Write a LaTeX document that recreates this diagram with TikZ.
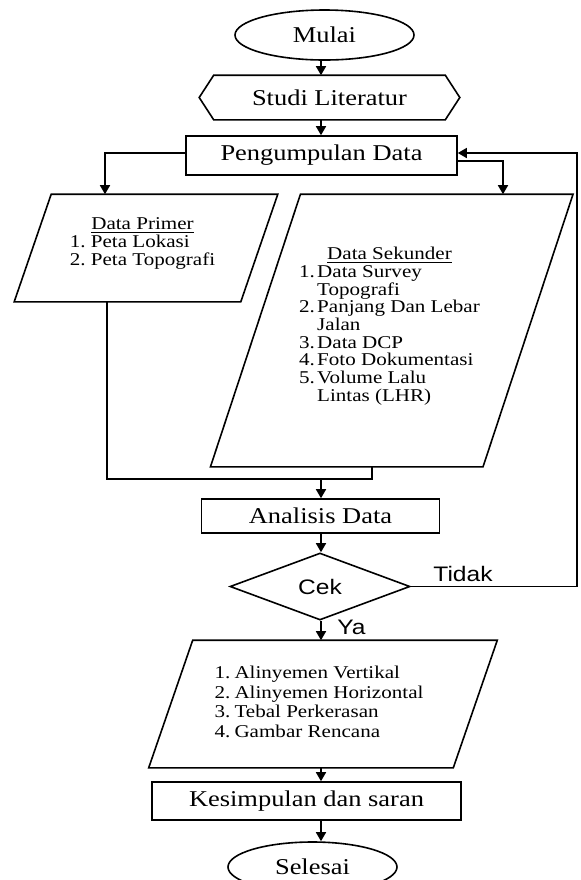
\documentclass[tikz,border=0pt]{standalone}
\usepackage{fontspec}
\setmainfont{Liberation Serif}[FakeStretch=1.17]
\newfontfamily\sansf{Liberation Sans}[FakeStretch=1.17]
\usetikzlibrary{shapes.geometric,arrows.meta,calc}
\newcommand{\itm}[3]{\makebox[#1][l]{#2}#3}
\begin{document}
\begin{tikzpicture}[x=0.5pt,y=-0.5pt, line width=0.8pt,
 arr/.style={-{Triangle[length=4.5pt,width=5pt]}},
 lbl/.style={font=\fontsize{11.3}{13}\selectfont, inner sep=0pt},
 boxr/.style={draw, rectangle, lbl},
 term/.style={draw, ellipse, lbl},
 frame/.style={rectangle, inner sep=0pt},
 lst/.style={inner sep=0pt, align=left, font=\fontsize{9}{8.75}\selectfont},
 lsto/.style={inner sep=0pt, align=left, font=\fontsize{9}{9.8}\selectfont},
 sans/.style={font=\sansf\fontsize{10.5}{12}\selectfont, inner sep=0pt}]
\useasboundingbox (0,0) rectangle (580,880);
\coordinate (X) at (321,0);

% terminals and boxes
\node[term, minimum width=89.5pt, minimum height=25pt] (mulai) at (324.5,35) {Mulai};
\node[lbl, minimum width=129.5pt, minimum height=21.5pt] (studi) at (329.5,97.5) {Studi Literatur};
\draw (studi.west) -- ($(studi.north west)+(14.5,0)$) -- ($(studi.north east)+(-14.5,0)$) -- (studi.east) -- ($(studi.south east)+(-14.5,0)$) -- ($(studi.south west)+(14.5,0)$) -- cycle;
\node[boxr, minimum width=135.5pt, minimum height=19.5pt] (peng) at (321.5,155.5) {Pengumpulan Data};

% Data Primer
\node[frame, minimum width=112.5pt, minimum height=53pt] (prim) at (146,248) {};
\draw ($(prim.south west)+(-18.5,0)$) -- ($(prim.north west)+(18.5,0)$) -- ($(prim.north east)+(18.5,0)$) -- ($(prim.south east)+(-18.5,0)$) -- cycle;
\node[lst] (primtxt) at (142.5,244) {\begin{tabular}{@{}l@{}}
\multicolumn{1}{@{}c@{}}{\underline{Data Primer}}\\
\itm{10.5pt}{1.}{Peta Lokasi}\\
\itm{10.5pt}{2.}{Peta Topografi}
\end{tabular}};

% Data Sekunder
\node[frame, minimum width=135.5pt, minimum height=135.5pt] (sek) at (391.75,330.5) {};
\draw ($(sek.south west)+(-45,0)$) -- ($(sek.north west)+(45,0)$) -- ($(sek.north east)+(45,0)$) -- ($(sek.south east)+(-45,0)$) -- cycle;
\node[lst] (sektxt) at (389.5,327) {\begin{tabular}{@{}l@{}}
\multicolumn{1}{@{}c@{}}{\underline{Data Sekunder}}\\
\itm{9pt}{1.}{Data Survey}\\
\hspace*{9pt}Topografi\\
\itm{9pt}{2.}{Panjang Dan Lebar}\\
\hspace*{9pt}Jalan\\
\itm{9pt}{3.}{Data DCP}\\
\itm{9pt}{4.}{Foto Dokumentasi}\\
\itm{9pt}{5.}{Volume Lalu}\\
\hspace*{9pt}Lintas (LHR)
\end{tabular}};

% merge
\coordinate (jL) at (107,479);
\coordinate (jR) at (372,479);
\coordinate (M) at (321,479);
\draw (prim.south -| jL) -- (jL) -- (jR) -- (sek.south -| jR);

\node[boxr, minimum width=119pt, minimum height=17pt] (anal) at (320.5,516) {Analisis Data};
\node[draw, diamond, aspect=2.69, minimum width=90pt, minimum height=33.5pt, inner sep=0pt, sans] (cek) at (320,586.5) {Cek};
\node[sans] (tidak) at (463,574) {Tidak};
\node[sans] (ya) at (351.5,627) {Ya};

% output
\node[frame, minimum width=151.5pt, minimum height=63pt] (out) at (323,704) {};
\draw ($(out.south west)+(-22,0)$) -- ($(out.north west)+(22,0)$) -- ($(out.north east)+(22,0)$) -- ($(out.south east)+(-22,0)$) -- cycle;
\node[lsto] (outtxt) at (319,704) {\begin{tabular}{@{}l@{}}
\itm{10pt}{1.}{Alinyemen Vertikal}\\
\itm{10pt}{2.}{Alinyemen Horizontal}\\
\itm{10pt}{3.}{Tebal Perkerasan}\\
\itm{10pt}{4.}{Gambar Rencana}
\end{tabular}};

\node[boxr, minimum width=154.5pt, minimum height=19pt] (kes) at (306.5,801) {Kesimpulan dan saran};
\node[term, minimum width=84.5pt, minimum height=25pt] (sel) at (312.5,867) {Selesai};

% connectors
\draw[arr] (mulai.south -| X) -- (studi.north -| X);
\draw[arr] (studi.south -| X) -- (peng.north -| X);
\coordinate (L) at (105,153);
\draw[arr] (peng.west |- L) -| (prim.north -| L);
\coordinate (R) at (503,161);
\draw[arr] (peng.east |- R) -| (sek.north -| R);
\coordinate (fbT) at (577,153);
\draw[arr] (cek.east) -- (cek.east -| fbT) -- (fbT) -- (peng.east |- fbT);
\draw[arr] (M) -- (anal.north -| M);
\draw[arr] (anal.south -| X) -- (cek.north -| X);
\draw[arr] (cek.south -| X) -- (out.north -| X);
\draw[arr] (out.south -| X) -- (kes.north -| X);
\draw[arr] (kes.south -| X) -- (sel.north -| X);
\end{tikzpicture}
\end{document}
